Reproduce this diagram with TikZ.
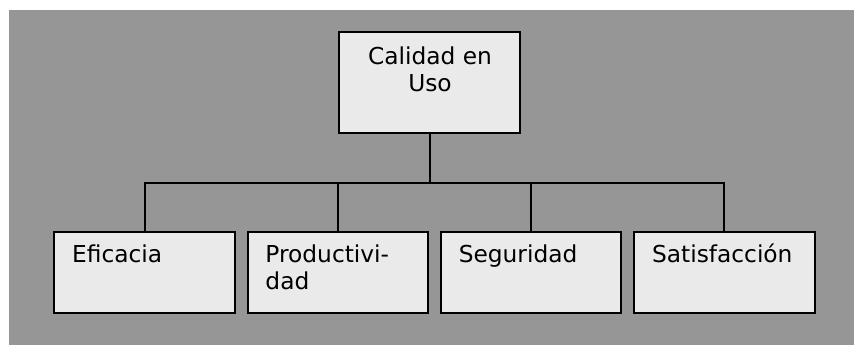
\documentclass[tikz,border=0pt]{standalone}
\usepackage{fontspec}
\setmainfont{DejaVu Sans}
\usetikzlibrary{positioning}

\definecolor{fondo}{RGB}{150,150,150}
\definecolor{caja}{RGB}{234,234,234}

\tikzset{
  box/.style={draw=black, line width=1pt, fill=caja, rectangle,
    minimum width=90.25pt, inner sep=0pt},
  txt/.style={inner sep=0pt, font=\fontsize{11.65pt}{13.5pt}\selectfont},
  conn/.style={line width=1pt}
}

\begin{document}
\begin{tikzpicture}[x=0.5pt,y=-0.5pt,node distance=5.4pt]
    \useasboundingbox (0,0) rectangle (854,345);
    \fill[fondo] (9,10) rectangle (854,345);
    % caja superior
    \node[box, minimum height=50.5pt] (uso) at (429.5,82.5) {};
    \node[txt, anchor=base, align=center] (usotxt) at (430,91) {Calidad en\\Uso};
    % caracteristicas
    \node[box, minimum height=40.5pt] (eficacia) at (144.5,272.5) {};
    \node[box, minimum height=40.5pt, right=of eficacia] (productividad) {};
    \node[box, minimum height=40.5pt, right=of productividad] (seguridad) {};
    \node[box, minimum height=40.5pt, right=of seguridad] (satisfaccion) {};
    \node[txt, anchor=base west] (eficaciatxt) at ([shift={(18.5,31)}]eficacia.north west) {Eficacia};
    \node[txt, anchor=base west, align=left] (productividadtxt) at ([shift={(18.5,58)}]productividad.north west) {Productivi-\\dad};
    \node[txt, anchor=base west] (seguridadtxt) at ([shift={(18.5,31)}]seguridad.north west) {Seguridad};
    \node[txt, anchor=base west] (satisfacciontxt) at ([shift={(18.5,31)}]satisfaccion.north west) {Satisfacción};
    % conectores
    \draw[conn] (uso.south) -- ++(0,49) coordinate (hub);
    \foreach \b in {eficacia,productividad,seguridad,satisfaccion}
      \draw[conn] (hub) -| (\b.north);
\end{tikzpicture}
\end{document}
